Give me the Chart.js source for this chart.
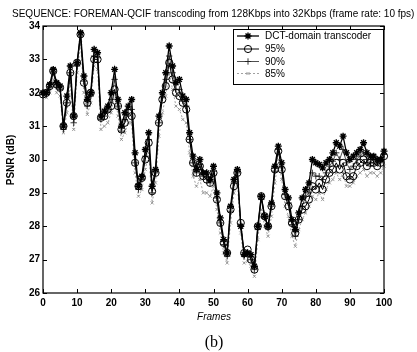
<!DOCTYPE html>
<html>
<head>
<meta charset="utf-8">
<script src="https://cdn.jsdelivr.net/npm/chart.js@4.4.0/dist/chart.umd.min.js"></script>
<style>
  html,body{margin:0;padding:0;background:#fff;}
  #wrap{position:relative;width:417px;height:352px;}
</style>
</head>
<body>
<div id="wrap"><canvas id="c" width="417" height="352"></canvas></div>
<script>
const titleText = "SEQUENCE: FOREMAN-QCIF transcoding from 128Kbps into 32Kbps (frame rate: 10 fps)";
const xTitle = "Frames";
const yTitle = "PSNR (dB)";
const caption = "(b)";
const seriesNames = ["DCT-domain transcoder", "95%", "90%", "85%"];
const xTicks = [0,10,20,30,40,50,60,70,80,90,100];
const yTicks = [26,27,28,29,30,31,32,33,34];

const frames = [0,1,2,3,4,5,6,7,8,9,10,11,12,13,14,15,16,17,18,19,20,21,22,23,24,25,26,27,28,29,30,31,32,33,34,35,36,37,38,39,40,41,42,43,44,45,46,47,48,49,50,51,52,53,54,55,56,57,58,59,60,61,62,63,64,65,66,67,68,69,70,71,72,73,74,75,76,77,78,79,80,81,82,83,84,85,86,87,88,89,90,91,92,93,94,95,96,97,98,99,100];

const dct = [32.0,32.0,32.25,32.7,32.3,32.2,31.0,31.9,32.8,31.3,
  32.9,33.8,32.5,31.8,32.0,33.3,33.2,31.3,31.45,31.6,
  32.0,32.7,31.8,31.0,31.4,31.6,31.8,30.2,29.2,29.5,
  30.3,30.8,29.2,29.7,31.3,32.0,32.6,33.4,32.8,32.3,
  32.4,31.9,31.8,30.8,30.1,29.7,30.0,29.6,29.6,29.4,
  29.8,29.0,28.25,27.6,27.2,28.6,29.4,29.7,28.0,27.15,
  27.2,27.15,26.8,28.0,28.9,28.3,28.0,28.7,29.8,30.4,
  29.9,29.1,28.85,28.2,27.9,28.4,28.85,29.1,29.3,30.0,
  29.9,29.85,29.75,29.9,30.0,30.2,30.5,30.4,30.7,30.2,
  30.0,30.1,30.2,30.3,30.5,30.2,30.1,30.1,30.0,30.0,30.25];

const p95 = [31.95,32.0,32.2,32.65,32.25,32.15,31.0,31.7,32.6,31.3,
  32.9,33.75,32.3,31.7,32.0,33.0,33.0,31.25,31.3,31.5,
  31.6,32.1,31.6,30.9,31.1,31.4,31.3,29.9,29.2,29.45,
  30.0,30.5,29.05,29.6,31.1,31.8,32.2,32.9,32.4,32.0,
  31.9,31.7,31.5,30.6,29.9,29.6,29.8,29.5,29.4,29.3,
  29.6,28.8,28.1,27.5,27.2,28.5,29.2,29.6,28.1,27.2,
  27.3,27.0,26.7,28.0,28.9,28.3,28.0,28.6,29.7,30.25,
  29.7,28.9,28.6,28.1,27.8,28.2,28.5,28.6,28.8,29.2,
  29.1,29.3,29.1,29.4,29.6,29.7,29.9,29.7,29.9,29.5,
  29.4,29.5,29.8,29.9,30.0,29.8,29.9,29.9,29.8,29.9,30.1];

const p90 = [31.95,31.95,32.15,32.6,32.2,32.1,30.9,31.7,32.6,31.1,
  32.8,33.7,32.35,31.6,31.9,33.1,33.05,31.2,31.3,31.45,
  31.8,32.4,31.6,30.85,31.2,31.5,31.5,29.9,29.1,29.4,
  30.1,30.6,29.0,29.6,31.1,31.85,32.4,33.1,32.6,32.1,
  32.1,31.75,31.6,30.6,29.9,29.6,29.85,29.5,29.45,29.3,
  29.65,28.85,28.1,27.45,27.1,28.45,29.3,29.6,28.0,27.1,
  27.15,27.0,26.7,27.9,28.8,28.25,27.95,28.6,29.65,30.3,
  29.75,28.95,28.7,28.05,27.7,28.2,28.6,28.9,29.0,29.6,
  29.5,29.5,29.4,29.6,29.8,29.95,30.2,30.0,30.3,29.9,
  29.7,29.8,30.0,30.1,30.2,30.0,29.9,30.0,29.9,29.9,30.15];

const p85 = [31.9,31.85,32.0,32.4,32.0,31.9,30.8,31.4,32.3,30.9,
  32.6,33.5,32.0,31.35,31.7,32.8,32.7,30.9,31.0,31.1,
  31.4,32.0,31.3,30.6,30.8,31.1,31.1,29.6,28.9,29.1,
  29.7,30.2,28.7,29.3,30.7,31.4,31.9,32.6,32.1,31.6,
  31.5,31.2,31.1,30.2,29.5,29.2,29.4,29.0,29.0,28.9,
  29.2,28.5,27.8,27.2,26.9,28.1,29.0,29.3,27.8,26.9,
  26.95,26.8,26.5,27.6,28.5,28.0,27.7,28.3,29.3,30.0,
  29.4,28.6,28.3,27.7,27.4,27.9,28.2,28.4,28.6,28.9,
  28.8,29.0,28.8,29.1,29.3,29.4,29.6,29.4,29.6,29.2,
  29.2,29.3,29.5,29.6,29.7,29.5,29.6,29.6,29.5,29.6,29.8];

const AREA = {left:43, top:26, right:384, bottom:293};

const decor = {
  id:'decor',
  afterDraw(chart){
    const ctx = chart.ctx;
    const a = chart.chartArea;
    const xs = chart.scales.x, ys = chart.scales.y;
    ctx.save();
    // box
    ctx.strokeStyle = '#000';
    ctx.lineWidth = 1.2;
    ctx.strokeRect(a.left, a.top, a.right - a.left, a.bottom - a.top);
    // inward ticks
    ctx.lineWidth = 1;
    ctx.beginPath();
    xTicks.forEach(v => {
      const px = Math.round(xs.getPixelForValue(v)) + 0.5;
      ctx.moveTo(px, a.bottom); ctx.lineTo(px, a.bottom - 4);
      ctx.moveTo(px, a.top); ctx.lineTo(px, a.top + 4);
    });
    yTicks.forEach(v => {
      const py = Math.round(ys.getPixelForValue(v)) + 0.5;
      ctx.moveTo(a.left, py); ctx.lineTo(a.left + 4, py);
      ctx.moveTo(a.right, py); ctx.lineTo(a.right - 4, py);
    });
    ctx.stroke();

    // title
    ctx.fillStyle = '#000';
    ctx.textBaseline = 'middle';
    ctx.textAlign = 'left';
    let fs = 9.5;
    ctx.font = fs + 'px "Liberation Sans", Arial, sans-serif';
    const w = ctx.measureText(titleText).width;
    fs = fs * 403 / w;
    ctx.font = fs + 'px "Liberation Sans", Arial, sans-serif';
    ctx.fillText(titleText, 12, 14);

    // x title
    ctx.textAlign = 'center';
    ctx.font = 'italic 10px "Liberation Sans", Arial, sans-serif';
    ctx.fillText(xTitle, 214, 317);
    // caption
    ctx.font = '16px "Liberation Serif", "Times New Roman", serif';
    ctx.fillText(caption, 214, 343);
    // y title
    ctx.save();
    ctx.translate(11, 160);
    ctx.rotate(-Math.PI/2);
    ctx.font = 'bold 10px "Liberation Sans", Arial, sans-serif';
    ctx.fillText(yTitle, 0, 0);
    ctx.restore();

    // legend
    const lx = 233, ly = 29, lw = 150, lh = 55;
    ctx.fillStyle = '#fff';
    ctx.fillRect(lx, ly, lw, lh);
    ctx.strokeStyle = '#000';
    ctx.lineWidth = 1;
    ctx.strokeRect(lx + 0.5, ly + 0.5, lw, lh);
    const rowY = [36, 49, 61.5, 73.5];
    chart.data.datasets.forEach((ds, i) => {
      const y = rowY[i];
      ctx.save();
      ctx.strokeStyle = ds.borderColor;
      ctx.lineWidth = ds.borderWidth;
      ctx.setLineDash(ds.borderDash || []);
      ctx.beginPath();
      ctx.moveTo(237, y); ctx.lineTo(259, y);
      ctx.stroke();
      ctx.setLineDash([]);
      ctx.strokeStyle = ds.pointBorderColor;
      ctx.fillStyle = ds.pointBackgroundColor;
      ctx.lineWidth = ds.pointBorderWidth;
      Chart.helpers.drawPoint(ctx, {pointStyle: ds.pointStyle, radius: ds.pointRadius, borderWidth: ds.pointBorderWidth, rotation: 0}, 248, y);
      ctx.restore();
      ctx.fillStyle = '#000';
      ctx.textAlign = 'left';
      ctx.font = '10px "Liberation Sans", Arial, sans-serif';
      ctx.fillText(ds.label, 265, y + 0.5);
    });
    ctx.restore();
  }
};

const ds = (label, data, opt) => Object.assign({
  label, data,
  borderColor:'#000', borderWidth:1, pointBorderColor:'#000',
  pointBackgroundColor:'rgba(0,0,0,0)', pointBorderWidth:1,
  tension:0, fill:false, clip:false
}, opt);

new Chart(document.getElementById('c'), {
  type:'line',
  data:{
    labels: frames,
    datasets:[
      ds(seriesNames[0], dct, {borderWidth:1.3, pointStyle:'star', pointRadius:3.5, pointBorderWidth:1.4}),
      ds(seriesNames[1], p95, {borderWidth:1, pointStyle:'circle', pointRadius:3.6, pointBorderWidth:1}),
      ds(seriesNames[2], p90, {borderWidth:0.8, pointStyle:'cross', pointRadius:3.2, pointBorderWidth:0.9, borderColor:'#222', pointBorderColor:'#222'}),
      ds(seriesNames[3], p85, {borderWidth:0.8, borderDash:[2,2], pointStyle:'crossRot', pointRadius:2.2, pointBorderWidth:0.8, borderColor:'#888', pointBorderColor:'#888'})
    ]
  },
  options:{
    responsive:false,
    animation:false,
    layout:{padding:{top:AREA.top, right:417-AREA.right, left:0, bottom:0}},
    plugins:{legend:{display:false}, tooltip:{enabled:false}, title:{display:false}},
    scales:{
      x:{
        type:'linear', min:0, max:100,
        afterFit(s){ s.height = 352 - AREA.bottom; },
        afterBuildTicks(s){ s.ticks = xTicks.map(v => ({value:v})); },
        grid:{display:false, drawTicks:false},
        border:{display:false},
        ticks:{color:'#000', padding:4, maxRotation:0, font:{family:'"Liberation Sans", Arial, sans-serif', size:10, weight:'bold'}}
      },
      y:{
        min:26, max:34,
        afterFit(s){ s.width = AREA.left; },
        afterBuildTicks(s){ s.ticks = yTicks.map(v => ({value:v})); },
        grid:{display:false, drawTicks:false},
        border:{display:false},
        ticks:{color:'#000', padding:3, font:{family:'"Liberation Sans", Arial, sans-serif', size:10, weight:'bold'}}
      }
    }
  },
  plugins:[decor]
});
</script>
</body>
</html>
